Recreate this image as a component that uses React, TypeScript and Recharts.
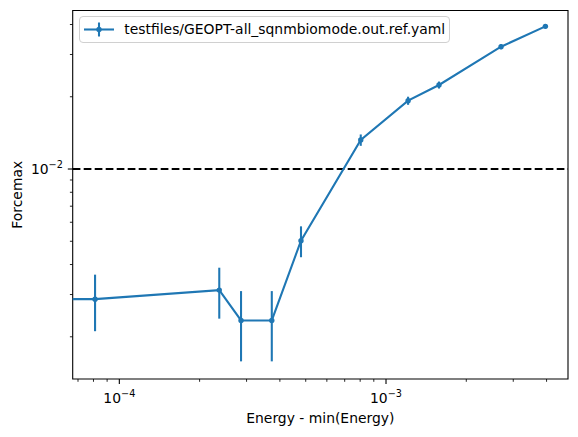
import {
  ComposedChart,
  Line,
  ErrorBar,
  XAxis,
  YAxis,
  ReferenceLine,
  ReferenceArea,
  Legend,
} from "recharts";

// Energy - min(Energy); the first point is the minimum itself (drawn off to the left)
const energy = [1e-8, 8.11e-5, 2.37e-4, 2.86e-4, 3.73e-4, 4.8e-4, 8.04e-4, 1.21e-3, 1.58e-3, 2.7e-3, 3.96e-3];
const forcemax = [2.88e-3, 2.87e-3, 3.13e-3, 2.34e-3, 2.34e-3, 5.03e-3, 0.01321, 0.01926, 0.02239, 0.03233, 0.0393];
const forceErr = [0.00075, 0.00076, 0.00075, 0.00076, 0.00076, 0.00074, 0.00072, 0.00075, 0.00075, 0.00075, 0.00075];

const xTicks = [7e-5, 8e-5, 9e-5, 1e-4, 2e-4, 3e-4, 4e-4, 5e-4, 6e-4, 7e-4, 8e-4, 9e-4, 1e-3, 2e-3, 3e-3, 4e-3];
const xMajor = [1e-4, 1e-3];
const yTicks = [2e-3, 3e-3, 4e-3, 5e-3, 6e-3, 7e-3, 8e-3, 9e-3, 1e-2, 2e-2, 3e-2, 4e-2];
const yMajor = [1e-2];

const threshold = 0.01;
const seriesName = "testfiles/GEOPT-all_sqnmbiomode.out.ref.yaml";

const xDomain = [6.686e-5, 4.813e-3];
const yDomain = [1.334e-3, 0.04575];

const BLUE = "#1f77b4";
const FONT = "DejaVu Sans, sans-serif";

const rows = energy.map((e, i) => ({ e, f: forcemax[i], err: forceErr[i] }));

const isMajor = (list: number[], v: number) => list.some((m) => Math.abs(m - v) / m < 1e-9);

function expOf(v: number) {
  return Math.round(Math.log10(v));
}

function XTick({ x, y, payload }: any) {
  const major = isMajor(xMajor, payload.value);
  return (
    <g>
      <line x1={x} x2={x} y1={y} y2={y + (major ? 4.9 : 2.8)} stroke="#000" strokeWidth={major ? 1.1 : 0.85} />
      {major && (
        <text x={x} y={y + 24} textAnchor="middle" fontSize={13.9} fontFamily={FONT} fill="#000">
          10
          <tspan dy={-6.5} fontSize={9.7}>
            {"\u2212" + Math.abs(expOf(payload.value))}
          </tspan>
        </text>
      )}
    </g>
  );
}

function YTick({ x, y, payload }: any) {
  const major = isMajor(yMajor, payload.value);
  return (
    <g>
      <line x1={x - (major ? 4.9 : 2.8)} x2={x} y1={y} y2={y} stroke="#000" strokeWidth={major ? 1.1 : 0.85} />
      {major && (
        <text x={x - 9.8} y={y + 5} textAnchor="end" fontSize={13.9} fontFamily={FONT} fill="#000">
          10
          <tspan dy={-6.5} fontSize={9.7}>
            {"\u2212" + Math.abs(expOf(payload.value))}
          </tspan>
        </text>
      )}
    </g>
  );
}

function LegendBox() {
  return (
    <div
      style={{
        boxSizing: "border-box",
        width: 371,
        height: 27,
        border: "1px solid #d0d0d0",
        borderRadius: 4,
        background: "rgba(255,255,255,0.8)",
        display: "flex",
        alignItems: "center",
        fontFamily: FONT,
        fontSize: 13.9,
        color: "#000",
        whiteSpace: "nowrap",
      }}
    >
      <svg width={44} height={25} style={{ flex: "none" }}>
        <line x1={4} x2={34} y1={12.5} y2={12.5} stroke={BLUE} strokeWidth={2.08} />
        <line x1={19} x2={19} y1={5.5} y2={19.5} stroke={BLUE} strokeWidth={2.08} />
        <circle cx={19} cy={12.5} r={2.7} fill={BLUE} />
      </svg>
      <span>{seriesName}</span>
    </div>
  );
}

export default function App() {
  return (
    <div style={{ position: "absolute", left: 0, top: 0, width: 578, height: 437, background: "#fff" }}>
      <ComposedChart
        width={578}
        height={437}
        data={rows}
        margin={{ top: 10.5, right: 10, left: 0, bottom: 0 }}
        style={{ fontFamily: FONT }}
      >
        <XAxis
          dataKey="e"
          type="number"
          scale="log"
          domain={xDomain}
          allowDataOverflow
          ticks={xTicks}
          interval={0}
          tick={<XTick />}
          tickLine={false}
          tickSize={0}
          tickMargin={0}
          axisLine={false}
          height={58}
          label={(p: any) => {
            const vb = p.viewBox;
            return (
              <text x={vb.x + vb.width / 2} y={vb.y + 44} textAnchor="middle" fontSize={13.9} fontFamily={FONT} fill="#000">
                Energy - min(Energy)
              </text>
            );
          }}
        />
        <YAxis
          dataKey="f"
          type="number"
          scale="log"
          domain={yDomain}
          allowDataOverflow
          ticks={yTicks}
          interval={0}
          tick={<YTick />}
          tickLine={false}
          tickSize={0}
          tickMargin={0}
          axisLine={false}
          width={72.7}
          label={(p: any) => {
            const vb = p.viewBox;
            const cy = vb.y + vb.height / 2;
            return (
              <text
                x={22}
                y={cy}
                transform={`rotate(-90 22 ${cy})`}
                textAnchor="middle"
                fontSize={13.9}
                fontFamily={FONT}
                fill="#000"
              >
                Forcemax
              </text>
            );
          }}
        />
        <ReferenceLine y={threshold} stroke="#000" strokeWidth={2.08} strokeDasharray="7.7 3.3" ifOverflow="visible" />
        <Line
          dataKey="f"
          stroke={BLUE}
          strokeWidth={2.08}
          type="linear"
          dot={{ r: 2.7, fill: BLUE, stroke: "none" }}
          activeDot={false}
          isAnimationActive={false}
          legendType="none"
        >
          <ErrorBar dataKey="err" direction="y" width={0} stroke={BLUE} strokeWidth={2.08} isAnimationActive={false} />
        </Line>
        <ReferenceArea
          x1={xDomain[0]}
          x2={xDomain[1]}
          y1={yDomain[0]}
          y2={yDomain[1]}
          fill="none"
          stroke="#000"
          strokeWidth={1.1}
          ifOverflow="visible"
        />
        <Legend
          layout="horizontal"
          verticalAlign="middle"
          align="center"
          content={() => <LegendBox />}
          wrapperStyle={{ left: 79.3, top: 15.7, width: 371, height: 27 }}
        />
      </ComposedChart>
    </div>
  );
}
